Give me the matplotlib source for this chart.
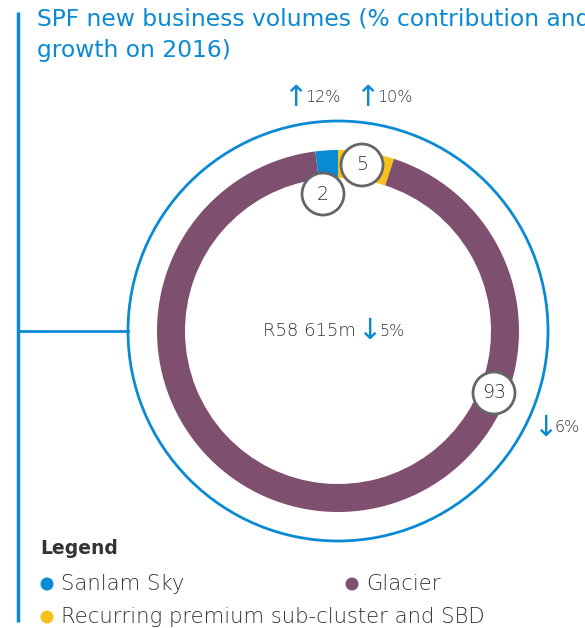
import matplotlib
matplotlib.use("Agg")
import matplotlib.pyplot as plt
from matplotlib.patches import Circle

# ---- data ----
segments = ["Recurring premium sub-cluster and SBD", "Glacier", "Sanlam Sky"]
shares = [5, 93, 2]
seg_colors = ["#f7c01b", "#7f4f70", "#0a8ad3"]
growth_arrows = ["↑", "↑", "↓"]
growth_values = ["10%", "12%", "6%"]
total_label = "R58 615m"
total_growth_arrow = "↓"
total_growth = "5%"
title = "SPF new business volumes (% contribution and\ngrowth on 2016)"
legend_items = ["Sanlam Sky", "Glacier", "Recurring premium sub-cluster and SBD"]
legend_colors = ["#0a8ad3", "#7f4f70", "#f7c01b"]

BLUE = "#0a8ad3"
GREY = "#333333"
W, H = 585, 628
plt.rcParams['font.family'] = ['DejaVu Sans']
LW = 'light'

fig = plt.figure(figsize=(W / 100, H / 100), dpi=100)
ax = fig.add_axes([0, 0, 1, 1])

def Y(y):
    return H - y

cx, cy = 338, Y(331)
R, ringw = 181, 28

ax.pie(shares, colors=seg_colors, startangle=90, counterclock=False,
       center=(cx, cy), radius=R,
       wedgeprops=dict(width=ringw, linewidth=0))

# outer thin blue circle
ax.add_patch(Circle((cx, cy), 210, fill=False, ec=BLUE, lw=2))

# left frame lines
ax.plot([18, 18], [Y(12), Y(622)], color=BLUE, lw=2.5, solid_capstyle='butt')
ax.plot([18, 128], [cy, cy], color=BLUE, lw=2)

# title (cut at the right edge as in the reference)
ax.text(37, Y(8), title, color=BLUE, fontsize=16.8, va='top', ha='left',
        linespacing=1.45, fontweight='normal')

# value bubbles
bubbles = [(362, 165, "5"), (494, 393, "93"), (323, 194, "2")]
for (bx, by, lab) in bubbles:
    ax.add_patch(Circle((bx, Y(by)), 21, fc='white', ec='#666666', lw=2, zorder=5))
    ax.text(bx, Y(by), lab, fontsize=13.5, color=GREY, ha='center', va='center',
            zorder=6, fontweight=LW)

# growth labels
gpos = [(367, 98), (295, 98), (545, 428)]
for (gx, gy), arr, val in zip(gpos, growth_arrows, growth_values):
    ax.text(gx, Y(gy), arr, fontsize=21, color=BLUE, ha='center', va='center',
            fontweight='normal')
    ax.text(gx + 10, Y(gy), val, fontsize=11.5, color=GREY, ha='left', va='center',
            fontweight=LW)

# centre label
ax.text(356, cy, total_label, fontsize=13, color=GREY, ha='right', va='center',
        fontweight=LW)
ax.text(369, cy, total_growth_arrow, fontsize=21, color=BLUE, ha='center',
        va='center', fontweight='normal')
ax.text(379, cy, total_growth, fontsize=11.5, color=GREY, ha='left', va='center',
        fontweight=LW)

# legend
ax.text(40, Y(549), "Legend", fontsize=13.5, fontweight='bold', color='#333333',
        ha='left', va='center')
lpos = [(47, 584), (352, 584), (47, 617)]
for (lx, ly), lab, col in zip(lpos, legend_items, legend_colors):
    ax.add_patch(Circle((lx, Y(ly)), 6.5, fc=col, ec='none'))
    ax.text(lx + 14, Y(ly), lab, fontsize=15.2, color=GREY, ha='left',
            va='center', fontweight=LW)

ax.set_xlim(0, W)
ax.set_ylim(0, H)
ax.set_aspect('equal')
ax.axis('off')
fig.savefig("out.png", dpi=100)
